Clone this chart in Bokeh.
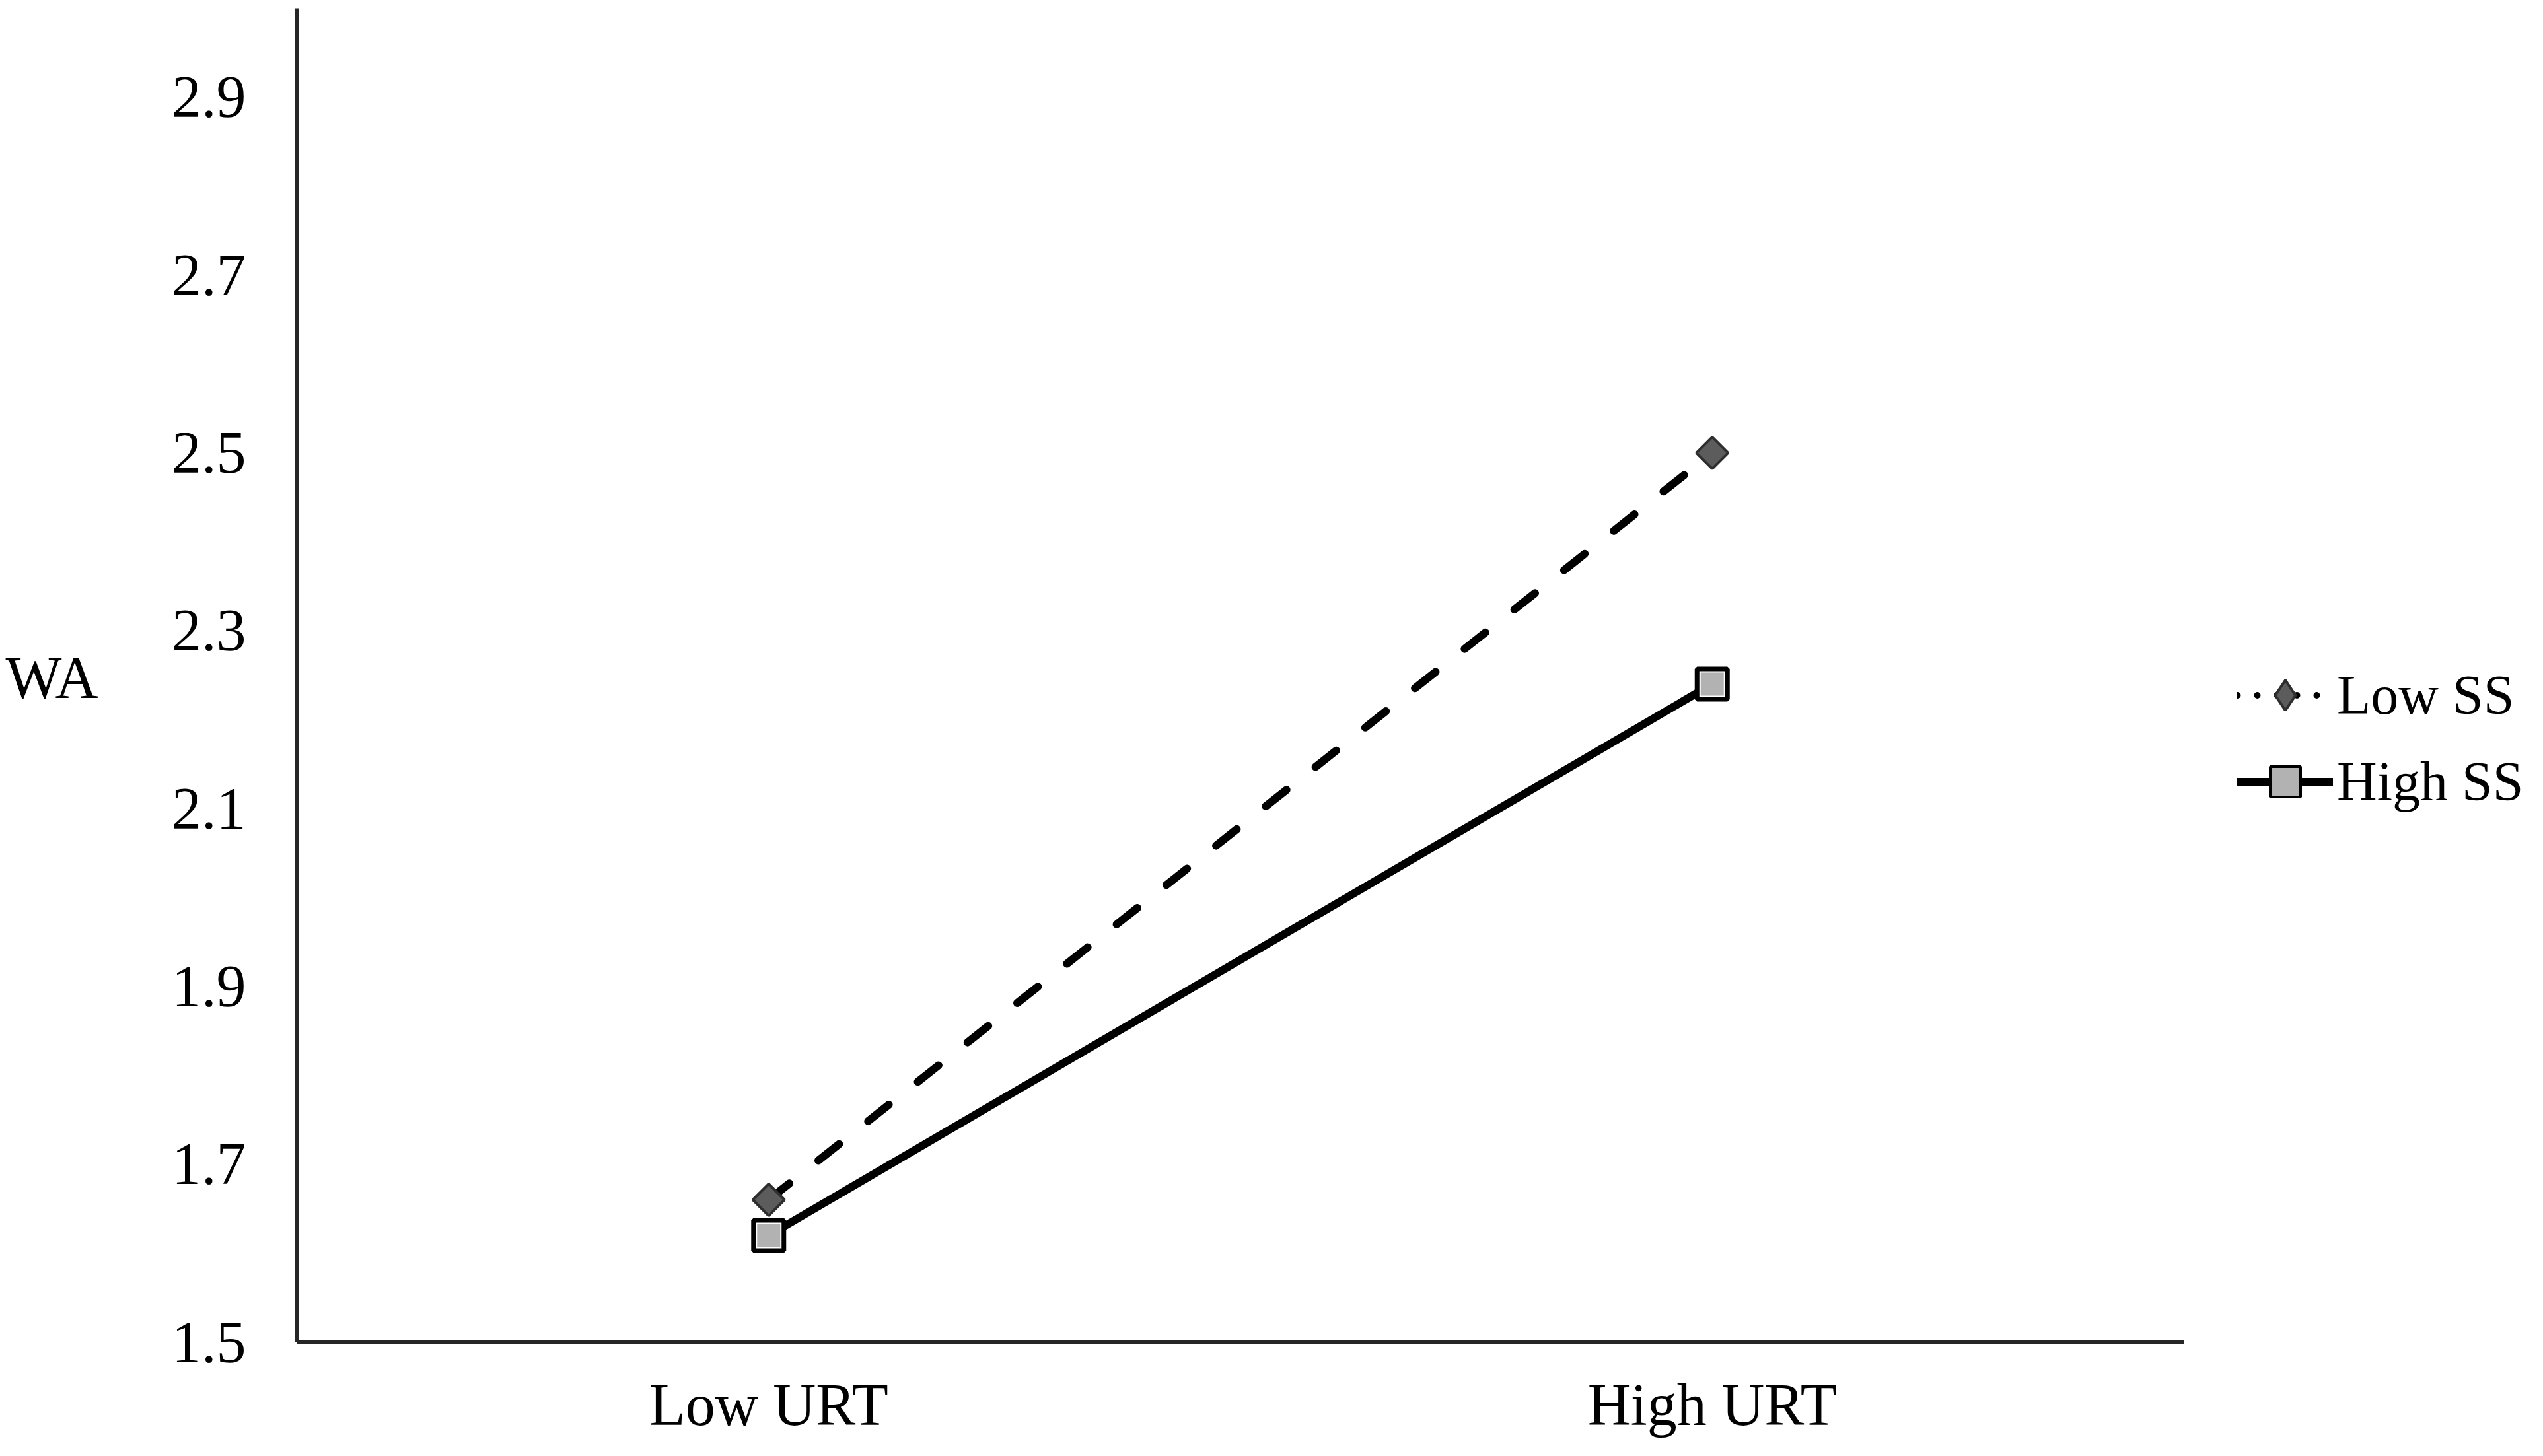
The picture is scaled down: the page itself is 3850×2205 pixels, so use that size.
import math
from bokeh.plotting import figure
from bokeh.layouts import row
from bokeh.models import (FactorRange, Range1d, FixedTicker, Legend, LegendItem,
                          LinearAxis)
from bokeh.embed import file_html
from bokeh.resources import INLINE

# ---- data ----
categories = ["Low URT", "High URT"]
low_ss = [1.66, 2.50]
high_ss = [1.62, 2.24]
y_ticks = [1.5, 1.7, 1.9, 2.1, 2.3, 2.5, 2.7, 2.9]
series_names = ["Low SS", "High SS"]
y_title = "WA"
y_title_pos = 2.247

FONT = "Liberation Serif"

p = figure(x_range=FactorRange(factors=categories, range_padding=0),
           y_range=Range1d(1.5, 3.0),
           width=3306, height=2189,
           output_backend="svg", toolbar_location=None,
           min_border_left=449, min_border_right=0,
           min_border_top=12, min_border_bottom=157)
p.outline_line_color = None
p.xgrid.grid_line_color = None
p.ygrid.grid_line_color = None
p.background_fill_color = "white"
p.border_fill_color = "white"

# axes
for ax in (p.xaxis[0], p.yaxis[0]):
    ax.axis_line_color = "#262626"
    ax.axis_line_width = 6
    ax.major_tick_line_color = None
    ax.minor_tick_line_color = None
    ax.major_tick_out = 0
    ax.major_tick_in = 0
    ax.major_label_text_font = FONT
    ax.major_label_text_font_size = "90px"
    ax.major_label_text_color = "black"
p.yaxis[0].ticker = FixedTicker(ticks=y_ticks)
p.yaxis[0].major_label_standoff = 77
p.xaxis[0].major_label_standoff = 45
p.xaxis[0].separator_line_color = None

# horizontal y title, drawn as the single label of an extra, line-less axis
title_axis = LinearAxis(ticker=FixedTicker(ticks=[y_title_pos]),
                        major_label_overrides={y_title_pos: y_title},
                        axis_line_color=None, major_tick_line_color=None,
                        minor_tick_line_color=None, major_tick_out=0,
                        major_tick_in=0, major_label_standoff=108,
                        major_label_text_font=FONT,
                        major_label_text_font_size="90px",
                        major_label_text_color="black")
p.add_layout(title_axis, "left")

# lines and markers
p.line(x=categories, y=low_ss, line_color="black", line_width=12,
       line_dash="40 56", line_cap="round")
p.scatter(x=categories, y=low_ss, marker="square", angle=math.pi / 4, size=34,
          fill_color="#5c5c5c", line_color="#2e2e2e", line_width=4)
p.line(x=categories, y=high_ss, line_color="black", line_width=12)
p.scatter(x=categories, y=high_ss, marker="square", size=46,
          fill_color="white", line_color="black", line_width=7)
p.scatter(x=categories, y=high_ss, marker="square", size=35,
          fill_color="#b2b2b2", line_color=None)

# ---- legend panel (separate narrow figure to the right) ----
lp = figure(width=528, height=2189, output_backend="svg", toolbar_location=None,
            x_range=Range1d(0, 1), y_range=Range1d(0, 1),
            x_axis_location=None, y_axis_location=None,
            min_border=0, min_border_left=0, min_border_right=0,
            min_border_top=0, min_border_bottom=0)
lp.outline_line_color = None
lp.grid.visible = False
lp.background_fill_color = "white"
lp.border_fill_color = "white"

nan = float("nan")
d_line1 = lp.line(x=[0], y=[nan], line_color="black", line_width=10,
                  line_dash="0 30", line_cap="round")
d_mark1 = lp.scatter(x=[0], y=[nan], marker="diamond",
                     fill_color="#5c5c5c", line_color="#2e2e2e", line_width=4)
d_line2 = lp.line(x=[0], y=[nan], line_color="black", line_width=12,
                  line_cap="round")
d_mark2 = lp.scatter(x=[0], y=[nan], marker="square",
                     fill_color="#b2b2b2", line_color="black", line_width=4)

legend = Legend(items=[LegendItem(label=series_names[0], renderers=[d_line1, d_mark1]),
                       LegendItem(label=series_names[1], renderers=[d_line2, d_mark2])],
                location=(81, 791), orientation="vertical",
                glyph_width=145, glyph_height=115, label_height=115,
                label_standoff=6, padding=0, margin=0, spacing=16,
                border_line_color=None, background_fill_alpha=0,
                label_text_font=FONT, label_text_font_size="84px",
                label_text_color="black")
lp.add_layout(legend, "center")

layout = row(p, lp, spacing=0)
open("out.html", "w").write(file_html(layout, INLINE))
